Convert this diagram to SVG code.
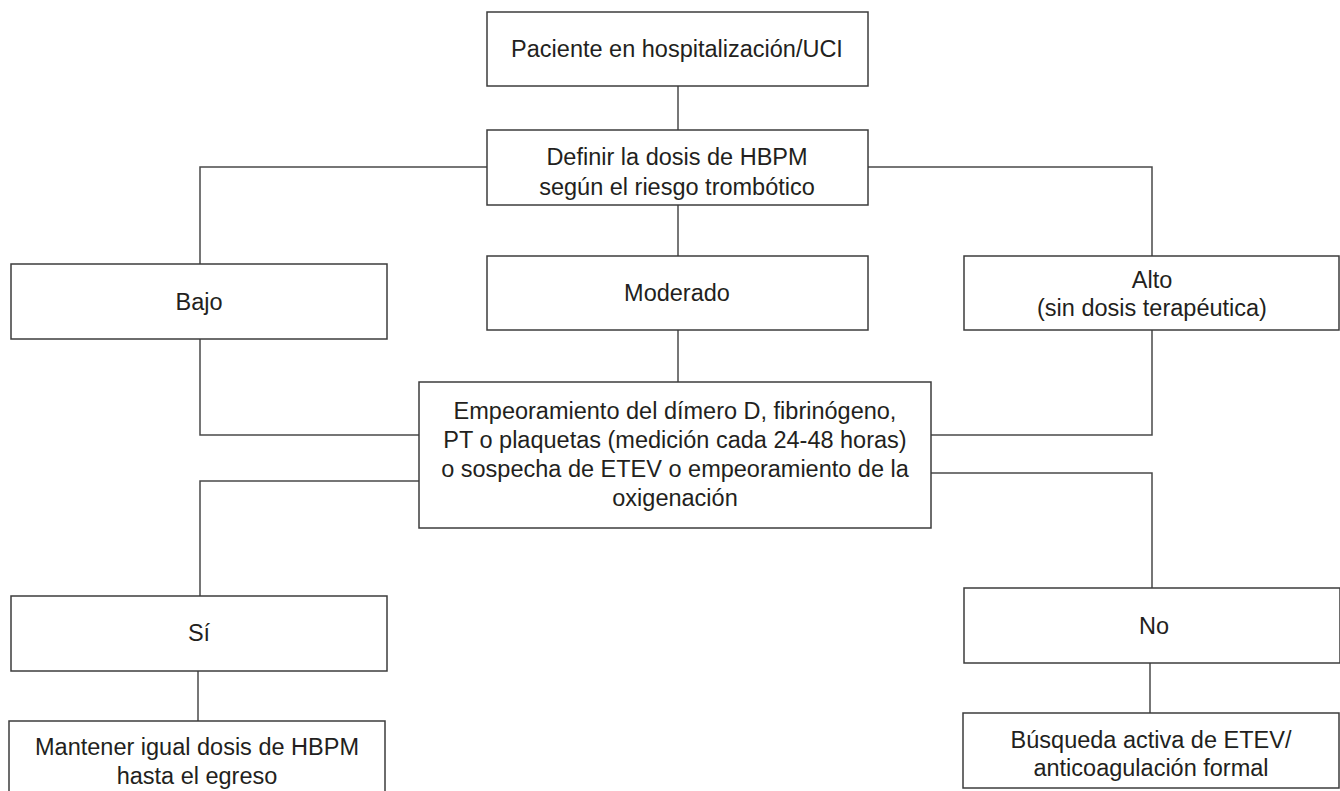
<svg xmlns="http://www.w3.org/2000/svg" width="1340" height="791" viewBox="0 0 1340 791">
<style>
.box{fill:#fff;stroke:#3c3c3c;stroke-width:1.5}
.ln{fill:none;stroke:#4a4a4a;stroke-width:1.5}
text{font-family:"Liberation Sans",Arial,sans-serif;font-size:23.5px;fill:#231f20;text-anchor:middle}
</style>
<rect width="1340" height="791" fill="#fff"/>
<g id="connectors">
<path class="ln" d="M678 86V130"/>
<path class="ln" d="M487 167H200V264"/>
<path class="ln" d="M868 167H1152V256"/>
<path class="ln" d="M678 205V256"/>
<path class="ln" d="M678 330V382"/>
<path class="ln" d="M200 339V435H419"/>
<path class="ln" d="M1152 330V435H931"/>
<path class="ln" d="M419 481H200V596"/>
<path class="ln" d="M931 473H1152V588"/>
<path class="ln" d="M198 671V721"/>
<path class="ln" d="M1150 663V713"/>
</g>
<g id="n1"><rect class="box" x="487" y="12" width="381" height="74"/><text x="677" y="57">Paciente en hospitalización/UCI</text></g>
<g id="n2"><rect class="box" x="487" y="130" width="381" height="75"/><text x="677" y="165">Definir la dosis de HBPM</text><text x="677" y="195">según el riesgo trombótico</text></g>
<g id="n3"><rect class="box" x="11" y="264" width="376" height="75"/><text x="199" y="310">Bajo</text></g>
<g id="n4"><rect class="box" x="487" y="256" width="381" height="74"/><text x="677" y="301">Moderado</text></g>
<g id="n5"><rect class="box" x="964" y="256" width="375" height="74"/><text x="1152" y="288">Alto</text><text x="1152" y="316">(sin dosis terapéutica)</text></g>
<g id="n6"><rect class="box" x="419" y="382" width="512" height="146"/><text x="675" y="419">Empeoramiento del dímero D, fibrinógeno,</text><text x="675" y="448">PT o plaquetas (medición cada 24-48 horas)</text><text x="675" y="477">o sospecha de ETEV o empeoramiento de la</text><text x="675" y="506">oxigenación</text></g>
<g id="n7"><rect class="box" x="11" y="596" width="376" height="75"/><text x="199" y="641">Sí</text></g>
<g id="n8"><rect class="box" x="9" y="721" width="376" height="74"/><text x="197" y="755">Mantener igual dosis de HBPM</text><text x="197" y="784">hasta el egreso</text></g>
<g id="n9"><rect class="box" x="964" y="588" width="376" height="75"/><text x="1154" y="634">No</text></g>
<g id="n10"><rect class="box" x="963" y="713" width="376" height="75"/><text x="1151" y="748">Búsqueda activa de ETEV/</text><text x="1151" y="776">anticoagulación formal</text></g>
</svg>
